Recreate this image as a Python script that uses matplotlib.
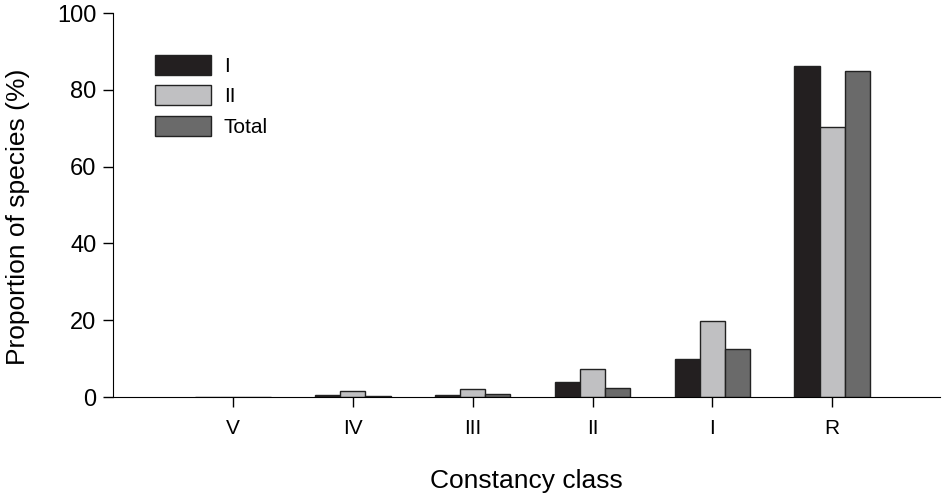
import numpy as np
import matplotlib
matplotlib.use("Agg")
import matplotlib.pyplot as plt

plt.rcParams['font.family'] = ['Liberation Sans', 'DejaVu Sans']

classes = ["V", "IV", "III", "II", "I", "R"]
group_1 = [0, 0.4, 0.4, 4.0, 10.0, 86.2]
group_2 = [0, 1.5, 2.2, 7.2, 19.7, 70.3]
total = [0, 0.2, 0.7, 2.3, 12.6, 84.8]

fig = plt.figure(figsize=(9.42, 5.0), dpi=100)
ax = fig.add_axes([0.12, 0.206, 0.878, 0.768])

x = np.arange(len(classes))
w = 0.21
ax.bar(x - w, group_1, w, color="#231f20", edgecolor="#222222", linewidth=1, label="I")
ax.bar(x, group_2, w, color="#c0c0c2", edgecolor="#222222", linewidth=1, label="II")
ax.bar(x + w, total, w, color="#6a6a6a", edgecolor="#222222", linewidth=1, label="Total")

ax.set_xlim(-1, 5.9)
ax.set_ylim(0, 100)
ax.set_xticks(x)
ax.set_xticklabels(classes, fontsize=15)
ax.set_yticks(range(0, 101, 20))
ax.tick_params(axis="y", labelsize=17, direction="out", length=7, width=1, pad=5)
ax.tick_params(axis="x", direction="out", length=7, width=1, pad=9)
ax.spines["top"].set_visible(False)
ax.spines["right"].set_visible(False)
ax.set_ylabel("Proportion of species (%)", fontsize=19)
ax.yaxis.set_label_coords(-0.1, 0.47)
ax.set_xlabel("Constancy class", fontsize=19, labelpad=22)

ax.legend(loc="upper left", bbox_to_anchor=(0.028, 0.94), frameon=False, fontsize=15,
          handlelength=2.7, handleheight=1.1, labelspacing=0.45, handletextpad=0.6)

plt.savefig("out.png")
